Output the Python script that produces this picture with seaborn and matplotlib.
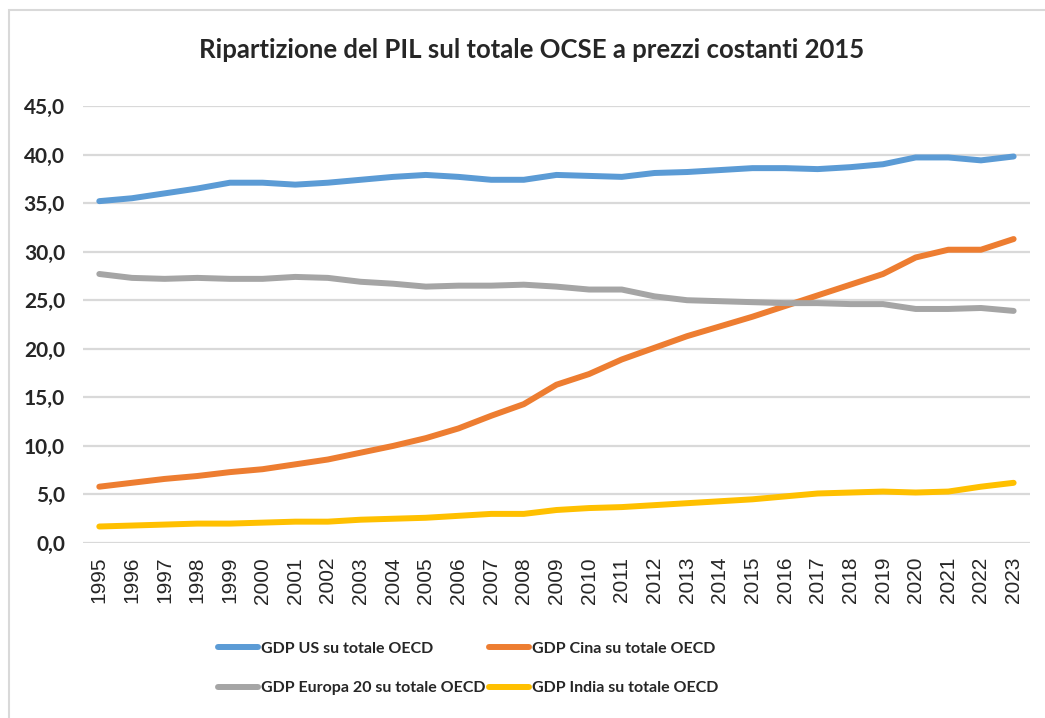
import numpy as np
import pandas as pd
import matplotlib
matplotlib.use("Agg")
import matplotlib.pyplot as plt
import seaborn as sns
from matplotlib.patches import Rectangle

# -----------------------------------
# DATA
# -----------------------------------

years = list(range(1995, 2024))

gdp_us = [35.2, 35.5, 36.0, 36.5, 37.1, 37.1, 36.9, 37.1, 37.4, 37.7,
          37.9, 37.7, 37.4, 37.4, 37.9, 37.8, 37.7, 38.1, 38.2, 38.4,
          38.6, 38.6, 38.5, 38.7, 39.0, 39.7, 39.7, 39.4, 39.8]

gdp_cina = [5.8, 6.2, 6.6, 6.9, 7.3, 7.6, 8.1, 8.6, 9.3, 10.0,
            10.8, 11.8, 13.1, 14.3, 16.3, 17.4, 18.9, 20.1, 21.3, 22.3,
            23.3, 24.4, 25.5, 26.6, 27.7, 29.4, 30.2, 30.2, 31.3]

gdp_europa = [27.7, 27.3, 27.2, 27.3, 27.2, 27.2, 27.4, 27.3, 26.9, 26.7,
              26.4, 26.5, 26.5, 26.6, 26.4, 26.1, 26.1, 25.4, 25.0, 24.9,
              24.8, 24.7, 24.7, 24.6, 24.6, 24.1, 24.1, 24.2, 23.9]

gdp_india = [1.7, 1.8, 1.9, 2.0, 2.0, 2.1, 2.2, 2.2, 2.4, 2.5,
             2.6, 2.8, 3.0, 3.0, 3.4, 3.6, 3.7, 3.9, 4.1, 4.3,
             4.5, 4.8, 5.1, 5.2, 5.3, 5.2, 5.3, 5.8, 6.2]

series_names = [
    "GDP US su totale OECD",
    "GDP Cina su totale OECD",
    "GDP Europa 20 su totale OECD",
    "GDP India su totale OECD",
]

colors = ["#5B9BD5", "#ED7D31", "#A5A5A5", "#FFC000"]

title = "Ripartizione del PIL sul totale OCSE a prezzi costanti 2015"

# -----------------------------------
# LONG FORMAT TABLE
# -----------------------------------

frames = []
for name, values in zip(series_names, [gdp_us, gdp_cina, gdp_europa, gdp_india]):
    frames.append(pd.DataFrame({
        "pos": np.arange(len(years)),
        "value": values,
        "serie": name,
    }))
df = pd.concat(frames, ignore_index=True)

# -----------------------------------
# PLOT
# -----------------------------------

sns.set_style("white")
plt.rcParams["font.family"] = ["Lato", "DejaVu Sans"]

fig = plt.figure(figsize=(10.45, 7.18), dpi=100)
ax = fig.add_axes([0.0794, 0.2437, 0.9062, 0.6087])

sns.lineplot(
    data=df,
    x="pos",
    y="value",
    hue="serie",
    hue_order=series_names,
    palette=colors,
    linewidth=4.3,
    ax=ax,
    legend=False,
)
for line in ax.lines:
    line.set_solid_capstyle("round")
    line.set_zorder(3)

ax.set_xlim(-0.5, len(years) - 0.5)
ax.set_ylim(0, 45)
ax.set_yticks(np.arange(0, 46, 5))
ax.set_yticklabels([f"{v:.1f}".replace(".", ",") for v in np.arange(0, 46, 5)],
                   fontsize=15, fontweight="bold")
ax.set_xticks(np.arange(len(years)))
ax.set_xticklabels([str(y) for y in years], rotation=90,
                   fontsize=15, family=["Liberation Sans", "DejaVu Sans"])
ax.tick_params(axis="y", length=0, pad=13)
ax.tick_params(axis="x", length=0, pad=10)

ax.grid(axis="y", color="#D9D9D9", linewidth=1.6)
ax.grid(axis="x", visible=False)
ax.set_axisbelow(True)
for side in ["top", "right", "left", "bottom"]:
    ax.spines[side].set_visible(False)
ax.set_xlabel("")
ax.set_ylabel("")

fig.text(0.509, 0.930, title, ha="center", va="center",
         fontsize=18.5, fontweight="bold")

# legend: two columns, US / Cina on first row
handles = [plt.Line2D([], [], color=c, linewidth=4.3, solid_capstyle="round")
           for c in colors]
order = [0, 2, 1, 3]
fig.legend(
    [handles[i] for i in order],
    [series_names[i] for i in order],
    ncol=2,
    loc="center",
    bbox_to_anchor=(0.448, 0.069),
    frameon=False,
    prop={"size": 11.5, "weight": "bold"},
    handlelength=2.5,
    handletextpad=0.2,
    columnspacing=0.2,
    labelspacing=1.6,
)

# outer chart border
fig.patches.append(Rectangle((9 / 1045, -0.01), 1.2, 1 - 10 / 718 + 0.01,
                             transform=fig.transFigure, fill=False,
                             edgecolor="#D9D9D9", linewidth=1.5))

fig.savefig("out.png", dpi=100)
